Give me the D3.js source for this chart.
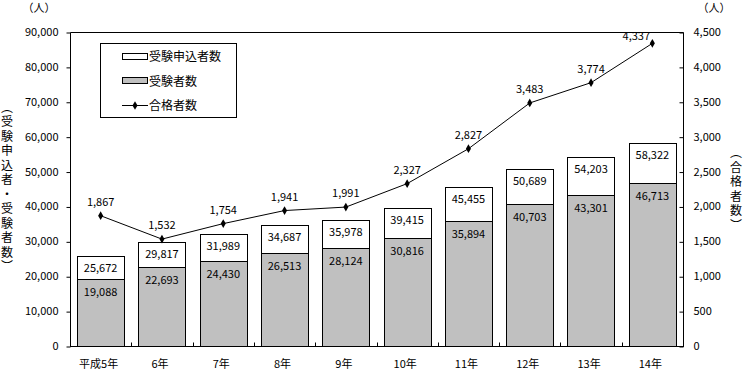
<!DOCTYPE html>
<html>
<head>
<meta charset="utf-8">
<script src="https://cdn.jsdelivr.net/npm/d3@7"></script>
<style>
  body { margin: 0; background: #fff; }
  svg text { font-family: "Noto Sans CJK JP", "DejaVu Sans", sans-serif; font-size: 11px; fill: #000; }
</style>
</head>
<body>
<div id="chart"></div>
<script>
// years (Heisei)
var years = ["平成5年", "6年", "7年", "8年", "9年", "10年", "11年", "12年", "13年", "14年"];
// 受験申込者数
var applicants = [25672, 29817, 31989, 34687, 35978, 39415, 45455, 50689, 54203, 58322];
// 受験者数
var examinees = [19088, 22693, 24430, 26513, 28124, 30816, 35894, 40703, 43301, 46713];
// 合格者数
var passers = [1867, 1532, 1754, 1941, 1991, 2327, 2827, 3483, 3774, 4337];

var leftTicks = [0, 10000, 20000, 30000, 40000, 50000, 60000, 70000, 80000, 90000];
var rightTicks = [0, 500, 1000, 1500, 2000, 2500, 3000, 3500, 4000, 4500];

var margin = { top: 32, right: 62, bottom: 27, left: 70 },
    W = 745, H = 373,
    width = W - margin.left - margin.right,
    height = H - margin.top - margin.bottom;

var svg = d3.select("#chart").append("svg")
  .attr("width", W).attr("height", H)
  .append("g")
  .attr("transform", "translate(" + margin.left + "," + margin.top + ")");

var x = d3.scaleBand().domain(years).range([0, width]).paddingInner(0.23).paddingOuter(0.115);
var xOuter = d3.scaleBand().domain(years).range([0, width]);
var y = d3.scaleLinear().domain([0, 90000]).range([height, 0]);
var y2 = d3.scaleLinear().domain([0, 4500]).range([height, 0]);
var fmt = d3.format(",");

// applicants bars (white)
svg.selectAll(".app").data(years).enter().append("rect")
  .attr("x", function (d) { return Math.round(x(d)) + 0.5; })
  .attr("y", function (d, i) { return Math.round(y(applicants[i])) + 0.5; })
  .attr("width", Math.round(x.bandwidth()))
  .attr("height", function (d, i) { return Math.round(height - y(applicants[i])); })
  .attr("fill", "#fff").attr("stroke", "#000");

// examinees bars (gray)
svg.selectAll(".exm").data(years).enter().append("rect")
  .attr("x", function (d) { return Math.round(x(d)) + 0.5; })
  .attr("y", function (d, i) { return Math.round(y(examinees[i])) + 0.5; })
  .attr("width", Math.round(x.bandwidth()))
  .attr("height", function (d, i) { return Math.round(height - y(examinees[i])); })
  .attr("fill", "#c0c0c0").attr("stroke", "#000");

// bar labels
svg.selectAll(".appLbl").data(years).enter().append("text")
  .attr("x", function (d) { return x(d) + x.bandwidth() / 2; })
  .attr("y", function (d, i) { return y(applicants[i]) + 16; })
  .attr("text-anchor", "middle")
  .text(function (d, i) { return fmt(applicants[i]); });
svg.selectAll(".exmLbl").data(years).enter().append("text")
  .attr("x", function (d) { return x(d) + x.bandwidth() / 2; })
  .attr("y", function (d, i) { return y(examinees[i]) + 17; })
  .attr("text-anchor", "middle")
  .text(function (d, i) { return fmt(examinees[i]); });

// passers line
var cx = function (i) { return xOuter(years[i]) + xOuter.bandwidth() / 2; };
var line = d3.line().x(function (d, i) { return cx(i); }).y(function (d) { return y2(d); });
svg.append("path").datum(passers).attr("d", line)
  .attr("fill", "none").attr("stroke", "#000").attr("stroke-width", 1);
svg.selectAll(".pt").data(passers).enter().append("path")
  .attr("d", d3.symbol().type(d3.symbolDiamond).size(22))
  .attr("transform", function (d, i) { return "translate(" + cx(i) + "," + y2(d) + ")"; })
  .attr("fill", "#000");
svg.selectAll(".ptLbl").data(passers).enter().append("text")
  .attr("x", function (d, i) {
    // label would hit the top of the plot: push it to the left like Excel
    return y2(d) - 10 < 14 ? cx(i) - 16 : cx(i);
  })
  .attr("y", function (d) { return y2(d) - 10 < 14 ? y2(d) - 3 : y2(d) - 10; })
  .attr("text-anchor", "middle")
  .text(function (d) { return fmt(d); });

// plot frame (top + sides)
svg.append("path")
  .attr("d", "M0.5," + (height + 0.5) + "V0.5H" + (width + 0.5) + "V" + (height + 0.5))
  .attr("fill", "none").attr("stroke", "#000");

// left axis
var yAxis = d3.axisLeft(y).tickValues(leftTicks).tickFormat(fmt).tickSize(4).tickPadding(8);
var gl = svg.append("g").attr("transform", "translate(0.5,0)").call(yAxis);
gl.select(".domain").remove();
gl.selectAll("line").attr("transform", "translate(0,0.5)");

// right axis (ticks pointing inward)
var yAxis2 = d3.axisRight(y2).tickValues(rightTicks).tickFormat(fmt).tickSize(-4).tickPadding(10);
var gr = svg.append("g").attr("transform", "translate(" + (width + 0.5) + ",0)").call(yAxis2);
gr.select(".domain").remove();
gr.selectAll("line").attr("transform", "translate(0,0.5)");

// bottom axis
var gb = svg.append("g").attr("transform", "translate(0," + (height + 0.5) + ")");
gb.append("line").attr("x1", 0).attr("x2", width + 1).attr("stroke", "#000");
gb.selectAll(".tk").data(years.slice(1)).enter().append("line")
  .attr("x1", function (d) { return Math.round(xOuter(d)) + 0.5; })
  .attr("x2", function (d) { return Math.round(xOuter(d)) + 0.5; })
  .attr("y1", 0).attr("y2", -4).attr("stroke", "#000");
gb.selectAll(".xl").data(years).enter().append("text")
  .attr("x", function (d) { return xOuter(d) + xOuter.bandwidth() / 2 - 2; })
  .attr("y", 21)
  .attr("text-anchor", "middle")
  .text(function (d) { return d; });

// unit labels
svg.append("text").attr("x", -31).attr("y", -20).attr("text-anchor", "middle").text("（人）");
svg.append("text").attr("x", width + 31).attr("y", -20).attr("text-anchor", "middle").text("（人）");

// vertical axis titles, one text each in vertical writing mode
function vtitle(str, px, cy) {
  svg.append("text")
    .attr("x", px).attr("y", cy)
    .attr("text-anchor", "middle")
    .style("writing-mode", "vertical-rl")
    .style("font-size", "12px")
    .style("letter-spacing", "2.5px")
    .text(str);
}
vtitle("（受験申込者・受験者数）", -63, 156);
vtitle("（合格者数）", width + 53, 158);

// legend
var lg = svg.append("g").attr("transform", "translate(30,11)");
lg.append("rect").attr("x", 0.5).attr("y", 0.5).attr("width", 136).attr("height", 74)
  .attr("fill", "#fff").attr("stroke", "#000");
var legendItems = ["受験申込者数", "受験者数", "合格者数"];
lg.append("rect").attr("x", 22.5).attr("y", 10.5).attr("width", 25).attr("height", 6)
  .attr("fill", "#fff").attr("stroke", "#000");
lg.append("rect").attr("x", 22.5).attr("y", 34.5).attr("width", 25).attr("height", 6)
  .attr("fill", "#c0c0c0").attr("stroke", "#000");
lg.append("line").attr("x1", 22).attr("x2", 48).attr("y1", 62.5).attr("y2", 62.5).attr("stroke", "#000");
lg.append("path").attr("d", d3.symbol().type(d3.symbolDiamond).size(22))
  .attr("transform", "translate(35,62.5)").attr("fill", "#000");
lg.selectAll(".lt").data(legendItems).enter().append("text")
  .attr("x", 49).attr("y", function (d, i) { return 18 + i * 24.5; })
  .style("font-size", "12px")
  .text(function (d) { return d; });
</script>
</body>
</html>
